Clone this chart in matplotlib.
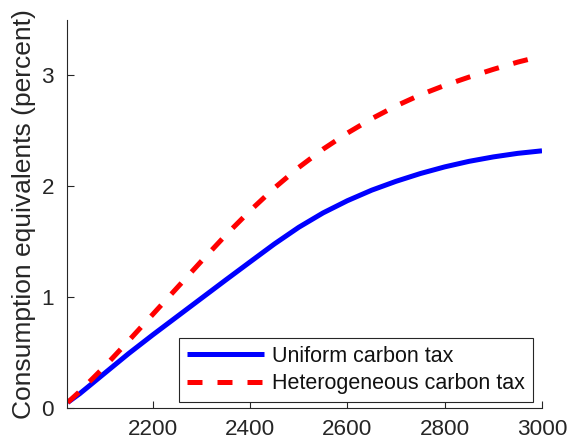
import matplotlib
matplotlib.use("Agg")
import matplotlib.pyplot as plt

plt.rcParams['font.family'] = ['Liberation Sans', 'DejaVu Sans']

# Welfare gains over time, consumption equivalents in percent
years = [2025, 2050, 2100, 2150, 2200, 2250, 2300, 2350, 2400, 2450, 2500,
         2550, 2600, 2650, 2700, 2750, 2800, 2850, 2900, 2950, 3000]
uniform_tax = [0.05, 0.13, 0.31, 0.49, 0.66, 0.825, 0.99, 1.155, 1.318, 1.48, 1.63,
               1.76, 1.87, 1.965, 2.045, 2.115, 2.175, 2.225, 2.265, 2.297, 2.32]
heterogeneous_tax = [0.05, 0.15, 0.37, 0.605, 0.845, 1.085, 1.325, 1.56, 1.78, 1.985, 2.17,
                     2.335, 2.48, 2.61, 2.725, 2.825, 2.91, 2.985, 3.055, 3.12, 3.175]
series_labels = ['Uniform carbon tax', 'Heterogeneous carbon tax']
x_ticks = [2200, 2400, 2600, 2800, 3000]
y_ticks = [0, 1, 2, 3]

W, H = 569, 444
fig = plt.figure(figsize=(W / 100, H / 100), dpi=100)
ax = fig.add_axes([66.7 / W, 1 - 408 / H, (542 - 66.7) / W, (408 - 20) / H])

axis_gray = '#262626'
ax.plot(years, uniform_tax, color='#0000ff', lw=3.6, solid_capstyle='butt',
        solid_joinstyle='round', label=series_labels[0])
ax.plot(years, heterogeneous_tax, color='#ff0000', lw=3.6, dashes=(3, 3),
        dash_capstyle='butt', dash_joinstyle='round', label=series_labels[1])

ax.set_xlim(2023, 3000)
ax.set_ylim(0, 3.5)
ax.set_xticks(x_ticks)
ax.set_yticks(y_ticks)
ax.tick_params(direction='in', length=5, width=0.8, colors=axis_gray,
               labelsize=16.2)
ax.tick_params(axis='x', pad=7.8)
ax.tick_params(axis='y', pad=9)
for side in ('top', 'right'):
    ax.spines[side].set_visible(False)
for side in ('left', 'bottom'):
    ax.spines[side].set_color(axis_gray)
    ax.spines[side].set_linewidth(0.8)

ax.set_ylabel('Consumption equivalents (percent)', fontsize=19,
              color=axis_gray, labelpad=4)

leg = ax.legend(loc='lower right', bbox_to_anchor=(0.9804, 0.0162),
                fontsize=15.5, handlelength=3.6, handletextpad=0.37,
                borderpad=0.35, labelspacing=0.3, borderaxespad=0,
                fancybox=False, framealpha=1, edgecolor=axis_gray)
leg.get_frame().set_linewidth(0.8)
for t in leg.get_texts():
    t.set_color('#111111')

fig.savefig('out.png', dpi=100)
